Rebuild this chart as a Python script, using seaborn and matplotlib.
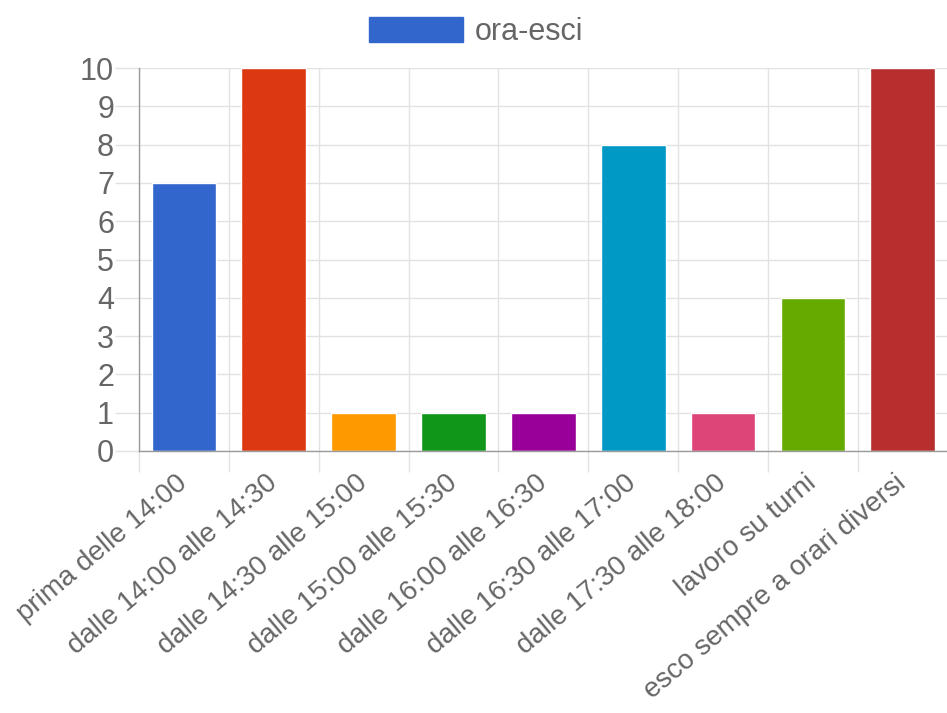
import matplotlib
matplotlib.use("Agg")
import matplotlib.pyplot as plt
import seaborn as sns
import pandas as pd
from matplotlib.patches import Patch

categories = ["prima delle 14:00", "dalle 14:00 alle 14:30", "dalle 14:30 alle 15:00",
              "dalle 15:00 alle 15:30", "dalle 16:00 alle 16:30", "dalle 16:30 alle 17:00",
              "dalle 17:30 alle 18:00", "lavoro su turni", "esco sempre a orari diversi"]
values = [7, 10, 1, 1, 1, 8, 1, 4, 10]
colors = ["#3366cc", "#dc3912", "#ff9900", "#109618", "#990099",
          "#0099c6", "#dd4477", "#66aa00", "#b82e2e"]
series_name = "ora-esci"

sns.set_theme(style="white")
plt.rcParams["font.family"] = ["Liberation Sans", "DejaVu Sans"]

df = pd.DataFrame({"cat": categories, "val": values})

fig = plt.figure(figsize=(9.47, 7.13), dpi=100)
ax = fig.add_axes([0.1468, 0.3675, 0.854, 0.537])

sns.barplot(data=df, x="cat", y="val", hue="cat", palette=colors,
            width=0.72, legend=False, ax=ax, saturation=1)

grid_c = "#e2e2e2"
axis_c = "#9a9a9a"
text_c = "#666666"

ax.set_xlim(-0.5, len(categories) - 0.5)
ax.set_ylim(0, 10)
ax.set_yticks(range(0, 11))
ax.set_xlabel("")
ax.set_ylabel("")

# gridlines on category boundaries, labels at centers
ax.set_xticks([i - 0.5 for i in range(len(categories) + 1)])
ax.set_xticklabels([])
ax.set_xticks(range(len(categories)), minor=True)
ax.set_xticklabels(categories, minor=True, rotation=40, ha="right",
                   rotation_mode="anchor", va="center", fontsize=20, color=text_c)
ax.tick_params(axis="x", which="major", length=15, color=grid_c, width=1, bottom=True)
ax.tick_params(axis="x", which="minor", length=0, pad=21)
ax.tick_params(axis="y", length=17, color=grid_c, width=1, left=True,
               labelsize=22, labelcolor=text_c, pad=1)

ax.grid(True, color=grid_c, linewidth=1)
ax.set_axisbelow(True)
for s in ["top", "right"]:
    ax.spines[s].set_visible(False)
for s in ["left", "bottom"]:
    ax.spines[s].set_color(axis_c)
    ax.spines[s].set_linewidth(1)

handle = Patch(facecolor=colors[0], edgecolor=colors[0])
fig.legend([handle], [series_name], loc="upper center", bbox_to_anchor=(0.503, 1.0),
           frameon=False, fontsize=22, handlelength=3.05, handleheight=0.9,
           handletextpad=0.4, labelcolor=text_c, borderaxespad=0.15)

fig.savefig("out.png", dpi=100, facecolor="white")
